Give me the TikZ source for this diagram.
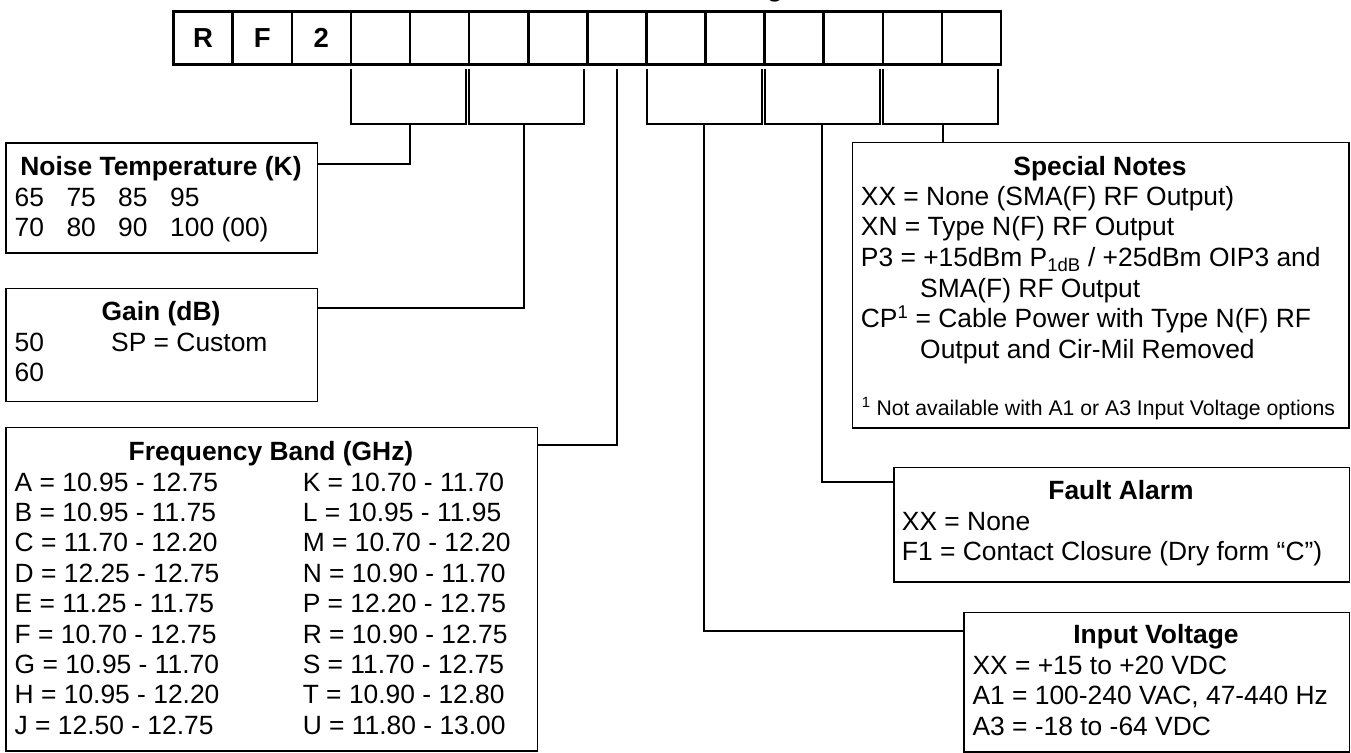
\documentclass[tikz,border=0pt]{standalone}
\usepackage{fontspec}
\setmainfont{Liberation Sans}
\newcommand\mfont{\fontsize{26.4pt}{30.7pt}\selectfont}
\newcommand\smfont{\fontsize{21.2pt}{24pt}\selectfont}
\begin{document}
\begin{tikzpicture}[x=1pt,y=-1pt,
  cell/.style={draw, line width=2.6pt, minimum width=59.1pt, minimum height=53pt, inner sep=0, anchor=north west},
  box/.style={draw, line width=1.6pt, inner sep=0, anchor=north west},
  conn/.style={line width=2pt},
  txt/.style={anchor=base west, inner sep=0, font=\mfont},
  ttl/.style={anchor=base, inner sep=0, font=\mfont\bfseries},
  lett/.style={anchor=base, inner sep=0, font=\fontsize{27.5pt}{30pt}\selectfont\bfseries},
  ]
\useasboundingbox (0,0) rectangle (1351,752);
% title fragment (cut off at top)
\node[ttl] (frag) at (775,-3) {g};
% code cells
\foreach \i in {0,...,13} \node[cell] (c\i) at ({172.3+59.1*\i},10) {};
\node[lett] (lR) at (c0.center |- 0,47.7) {R};
\node[lett] (lF) at (c1.center |- 0,47.7) {F};
\node[lett] (l2) at (c2.center |- 0,47.7) {2};

% boxes
\node[box, minimum width=311.1pt, minimum height=109.7pt] (noise) at (5.4,142.3) {};
\node[box, minimum width=311.1pt, minimum height=113pt] (gain) at (5.4,287.7) {};
\node[box, minimum width=531.4pt, minimum height=323.3pt] (freq) at (5.4,426.7) {};
\node[box, minimum width=496.3pt, minimum height=285.6pt] (spec) at (851.7,141.7) {};
\node[box, minimum width=455.4pt, minimum height=114.3pt] (fault) at (893.1,466.7) {};
\node[box, minimum width=385.2pt, minimum height=139.3pt] (inp) at (963.3,611.7) {};

% brackets
\coordinate (b1l) at (351.1,69); \coordinate (b1r) at (466.3,69); \coordinate (s1) at (410,124);
\coordinate (b2l) at (469.3,69); \coordinate (b2r) at (584.4,69); \coordinate (s2) at (524,124);
\coordinate (f0) at (617.3,69);
\coordinate (b3l) at (646.6,69); \coordinate (b3r) at (761.8,69); \coordinate (s3) at (704.3,124);
\coordinate (b4l) at (764.8,69); \coordinate (b4r) at (880.3,69); \coordinate (s4) at (822.3,124);
\coordinate (b5l) at (883.4,69); \coordinate (b5r) at (998.4,69); \coordinate (s5) at (942.5,124);
\foreach \k in {1,...,5} \draw[conn] (b\k l) |- (b\k r |- s\k) -- (b\k r);

% connectors
\coordinate (j1) at (410,164.3);
\coordinate (j2) at (524,308.3);
\coordinate (j3) at (617.3,445);
\coordinate (j4) at (704.3,631);
\coordinate (j5) at (822.3,482.3);
\draw[conn] (s1) -- (j1) -- (noise.east |- j1);
\draw[conn] (s2) -- (j2) -- (gain.east |- j2);
\draw[conn] (f0) -- (j3) -- (freq.east |- j3);
\draw[conn] (s3) -- (j4) -- (inp.west |- j4);
\draw[conn] (s4) -- (j5) -- (fault.west |- j5);
\draw[conn] (s5) -- (spec.north -| s5);

% Noise Temperature
\node[ttl] (nt) at (161,175) {Noise Temperature (K)};
\node[txt] (n1a) at (14.5,206) {65};
\node[txt] (n1b) at (66.3,206) {75};
\node[txt] (n1c) at (118,206) {85};
\node[txt] (n1d) at (170,206) {95};
\node[txt] (n2a) at (14.5,236.7) {70};
\node[txt] (n2b) at (66.3,236.7) {80};
\node[txt] (n2c) at (118,236.7) {90};
\node[txt] (n2d) at (170,236.7) {100 (00)};

% Gain
\node[ttl] (gt) at (161,320) {Gain (dB)};
\node[txt] (g1) at (14.5,351) {50};
\node[txt] (g2) at (111,351) {SP = Custom};
\node[txt] (g3) at (14.5,381.7) {60};

% Frequency band
\node[ttl] (ft) at (271,460) {Frequency Band (GHz)};
\foreach \a/\b [count=\r from 0] in {
  {A = 10.95 - 12.75}/{K = 10.70 - 11.70},
  {B = 10.95 - 11.75}/{L = 10.95 - 11.95},
  {C = 11.70 - 12.20}/{M = 10.70 - 12.20},
  {D = 12.25 - 12.75}/{N = 10.90 - 11.70},
  {E = 11.25 - 11.75}/{P = 12.20 - 12.75},
  {F = 10.70 - 12.75}/{R = 10.90 - 12.75},
  {G = 10.95 - 11.70}/{S = 11.70 - 12.75},
  {H = 10.95 - 12.20}/{T = 10.90 - 12.80},
  {J = 12.50 - 12.75}/{U = 11.80 - 13.00}} {
  \node[txt] (fa\r) at (14.5,{491+30.4*\r}) {\a};
  \node[txt] (fb\r) at (302.6,{491+30.4*\r}) {\b};
}

% Special notes
\node[ttl] (st) at (1100,175) {Special Notes};
\node[txt] (sp1) at (860.7,205) {XX = None (SMA(F) RF Output)};
\node[txt] (sp2) at (860.7,235.7) {XN = Type N(F) RF Output};
\node[txt] (sp3) at (860.7,266.4) {P3 = +15dBm P\textsubscript{1dB} / +25dBm OIP3 and};
\node[txt] (sp4) at (920,297.1) {SMA(F) RF Output};
\node[txt] (sp5) at (860.7,327.8) {CP\textsuperscript{1} = Cable Power with Type N(F) RF};
\node[txt] (sp6) at (920,358.5) {Output and Cir-Mil Removed};
\node[txt, font=\smfont] (sp7) at (861.7,415) {\textsuperscript{1} Not available with A1 or A3 Input Voltage options};

% Fault alarm
\node[ttl] (fat) at (1121,499.3) {Fault Alarm};
\node[txt] (fa1) at (901.7,530) {XX = None};
\node[txt] (fa2) at (901.7,560.7) {F1 = Contact Closure (Dry form “C”)};

% Input voltage
\node[ttl] (it) at (1156,643.3) {Input Voltage};
\node[txt] (iv1) at (972.3,674) {XX = +15 to +20 VDC};
\node[txt] (iv2) at (972.3,704.7) {A1 = 100-240 VAC, 47-440 Hz};
\node[txt] (iv3) at (972.3,735.4) {A3 = -18 to -64 VDC};
\end{tikzpicture}
\end{document}
